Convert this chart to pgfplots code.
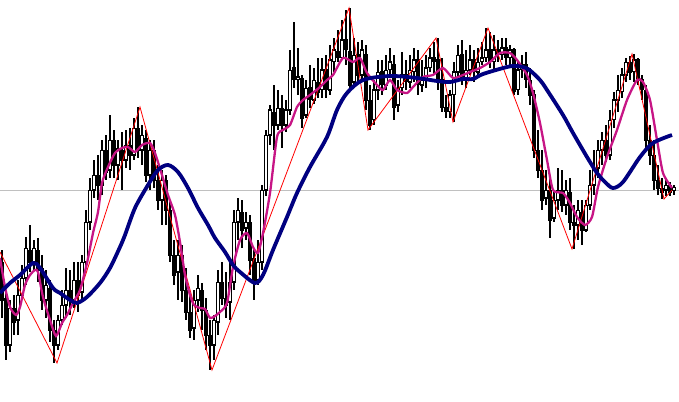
\documentclass[border=0pt]{standalone}
\usepackage{pgfplots}
\usepackage{pgfplotstable}
\pgfplotsset{compat=1.18}
\definecolor{mavg}{RGB}{199,21,133}
\definecolor{navyc}{RGB}{0,0,128}
\definecolor{greyline}{RGB}{192,192,192}
\pgfplotstableread{
x o c h l
2 262 300 250 318
6 298 345 290 360
10 345 308 300 352
14 308 322 295 335
18 320 295 280 335
22 295 278 265 300
26 278 248 237 285
30 250 262 225 272
34 262 248 240 270
38 250 270 238 282
42 268 300 255 310
46 300 285 270 318
50 288 330 280 342
54 330 345 320 363
58 345 320 315 350
62 320 305 290 325
66 305 290 268 318
70 290 300 270 315
74 300 280 262 308
78 280 295 262 312
82 292 262 255 300
86 262 222 210 268
90 222 190 178 230
94 190 175 160 198
98 175 185 155 200
102 185 150 140 195
106 150 172 135 180
110 170 140 115 178
114 140 165 130 178
118 165 148 140 180
122 150 160 132 190
126 160 145 130 168
130 145 155 128 170
134 155 128 118 160
138 128 150 107 158
142 150 135 125 165
146 138 175 130 182
150 175 150 140 190
154 150 180 140 188
158 180 200 165 210
162 200 180 170 225
166 180 210 175 225
170 210 255 200 262
174 255 275 240 285
178 272 255 240 300
182 255 290 245 302
186 290 312 268 320
190 312 330 295 338
194 328 300 290 340
198 300 288 275 312
202 290 310 283 330
206 310 335 298 350
210 335 345 320 370
214 345 320 315 360
218 322 282 270 335
222 282 298 262 305
226 298 305 272 318
230 302 282 262 320
234 282 222 210 290
238 222 210 198 240
242 212 230 200 248
246 228 222 212 240
250 222 260 215 275
254 258 280 248 300
258 280 262 240 285
262 262 190 185 270
266 190 135 130 196
270 135 110 105 145
274 112 125 85 150
278 125 108 90 130
282 108 125 95 148
286 125 110 100 132
290 110 70 50 115
294 68 80 22 88
298 80 77 48 95
302 78 118 75 128
306 115 88 80 118
310 88 100 65 108
314 100 80 68 104
318 82 92 58 98
322 90 70 58 98
326 70 90 55 98
330 90 60 45 95
334 62 50 38 72
338 52 58 30 62
342 58 40 20 60
346 40 50 10 65
350 52 85 8 90
354 82 55 38 88
358 55 75 42 82
362 75 50 40 80
366 55 100 45 110
370 100 125 85 130
374 120 90 80 125
378 90 72 60 100
382 72 85 60 95
386 85 70 55 90
390 70 62 48 78
394 65 108 55 120
398 105 88 80 112
402 88 75 52 95
406 75 82 60 90
410 82 70 55 88
414 72 60 48 82
418 60 85 50 95
422 85 80 60 92
426 80 68 55 88
430 68 58 48 72
434 58 62 42 75
438 60 80 38 90
442 80 108 58 112
446 108 112 95 118
450 112 95 90 118
454 95 72 62 122
458 72 55 45 78
462 55 80 40 85
466 80 70 50 88
470 70 60 45 75
474 60 72 50 82
478 72 62 48 78
482 62 58 42 65
486 58 50 28 62
490 50 62 32 68
494 62 50 35 70
498 50 55 40 62
502 55 48 38 60
506 48 58 38 65
510 58 50 45 68
514 50 92 48 95
518 90 70 62 95
522 70 65 55 78
526 65 80 52 88
530 80 95 68 105
534 95 150 90 158
538 150 170 130 178
542 170 200 150 210
546 198 190 170 205
550 190 220 175 238
554 218 200 190 222
558 200 190 168 210
562 190 205 170 212
566 205 190 180 215
570 192 222 178 230
574 222 225 205 249
578 225 210 200 240
582 212 230 200 245
586 230 205 200 232
590 205 185 170 210
594 185 168 150 195
598 168 150 140 178
602 150 140 132 165
606 140 155 125 162
610 155 120 110 160
614 120 100 92 128
618 100 90 75 112
622 92 75 68 98
626 75 62 58 82
630 62 72 56 80
634 72 60 54 82
638 60 80 58 85
642 80 90 75 100
646 90 140 85 150
650 140 155 125 165
654 155 180 140 190
658 180 188 165 195
662 188 192 178 199
666 190 185 180 196
670 185 192 182 196
674 190 187 185 195
}\candles
\begin{document}
\begin{tikzpicture}
\begin{axis}[
  scale only axis, width=679bp, height=402bp,
  xmin=0, xmax=679, ymin=0, ymax=402, y dir=reverse,
  hide axis, clip=true,
]
% horizontal grey level
\addplot[color=greyline, line width=1bp, forget plot] coordinates {(0,190) (679,190)};
% wicks
\addplot[draw=none, mark=none, forget plot,
  error bars/.cd, y dir=both, y explicit, error mark=none,
  error bar style={draw=black, line width=1.1bp}]
  table[x=x, y expr={(\thisrow{h}+\thisrow{l})/2}, y error expr={(\thisrow{l}-\thisrow{h})/2}] {\candles};
% bodies (black outline / fill)
\addplot[draw=none, mark=none, forget plot,
  error bars/.cd, y dir=both, y explicit, error mark=none,
  error bar style={draw=black, line width=3.4bp}]
  table[x=x, y expr={(\thisrow{o}+\thisrow{c})/2}, y error expr={abs(\thisrow{o}-\thisrow{c})/2+0.5}] {\candles};
% white interior of rising candles
\addplot[draw=none, mark=none, forget plot,
  error bars/.cd, y dir=both, y explicit, error mark=none,
  error bar style={draw=white, line width=1.2bp}]
  table[x=x, y expr={(\thisrow{o}+\thisrow{c})/2}, y error expr={(\thisrow{o}>\thisrow{c})*max(abs(\thisrow{o}-\thisrow{c})/2-0.6,0)}] {\candles};
% zigzag
\addplot[red, line width=0.8bp, forget plot] coordinates {
(0,252) (57,363) (140,107) (212,370) (349,8) (368,130) (436,38) (453,122) (488,28) (572,249) (632,54) (664,199) (672,190)};
% fast average
\addplot[mavg, line width=2.3bp, smooth, tension=0.4, forget plot] coordinates {
(0,258) (5,287) (10,307) (16,315) (20,307) (25,285) (30,275) (35,270) (38,272) (43,297) (50,320) (56,336) (62,323) (67,315) (73,303) (80,290) (87,263) (93,233) (98,212) (102,183) (108,167) (115,153) (122,148) (128,147) (135,152) (142,145) (150,143) (155,153) (162,175) (168,195) (175,215) (180,242) (185,275) (190,295) (194,305) (200,308) (205,309) (210,318) (215,316) (220,312) (227,303) (233,267) (240,240) (247,233) (253,247) (258,253) (263,233) (270,193) (277,137) (283,130) (290,125) (297,107) (303,100) (310,95) (320,87) (327,80) (333,75) (343,58) (353,62) (360,58) (367,73) (377,85) (383,90) (390,80) (397,90) (407,93) (413,87) (423,77) (433,75) (443,68) (453,78) (463,75) (470,72) (480,68) (490,62) (500,53) (510,53) (517,60) (527,75) (533,93) (540,123) (547,160) (553,190) (563,193) (570,203) (577,217) (585,225) (592,217) (598,187) (607,157) (617,130) (627,100) (637,80) (643,82) (650,100) (657,140) (663,173) (672,188)};
% slow average
\addplot[navyc, line width=3.8bp, smooth, tension=0.5, forget plot] coordinates {
(0,293) (10,283) (20,275) (33,263) (40,268) (53,288) (60,293) (70,300) (77,303) (87,297) (100,283) (110,268) (120,247) (125,235) (135,208) (148,185) (158,170) (168,165) (178,172) (188,188) (198,208) (208,225) (215,238) (225,252) (233,265) (240,272) (255,283) (263,275) (273,250) (287,217) (297,193) (310,167) (327,137) (337,110) (347,93) (363,80) (390,76) (417,78) (437,81) (450,82) (463,79) (473,79) (483,74) (507,67) (517,66) (528,69) (540,80) (547,90) (563,115) (573,133) (587,157) (597,173) (605,182) (613,188) (623,182) (640,157) (653,143) (672,135)};
\end{axis}
\pgfresetboundingbox
\path (current axis.south west) rectangle (current axis.north east);
\end{tikzpicture}
\end{document}
